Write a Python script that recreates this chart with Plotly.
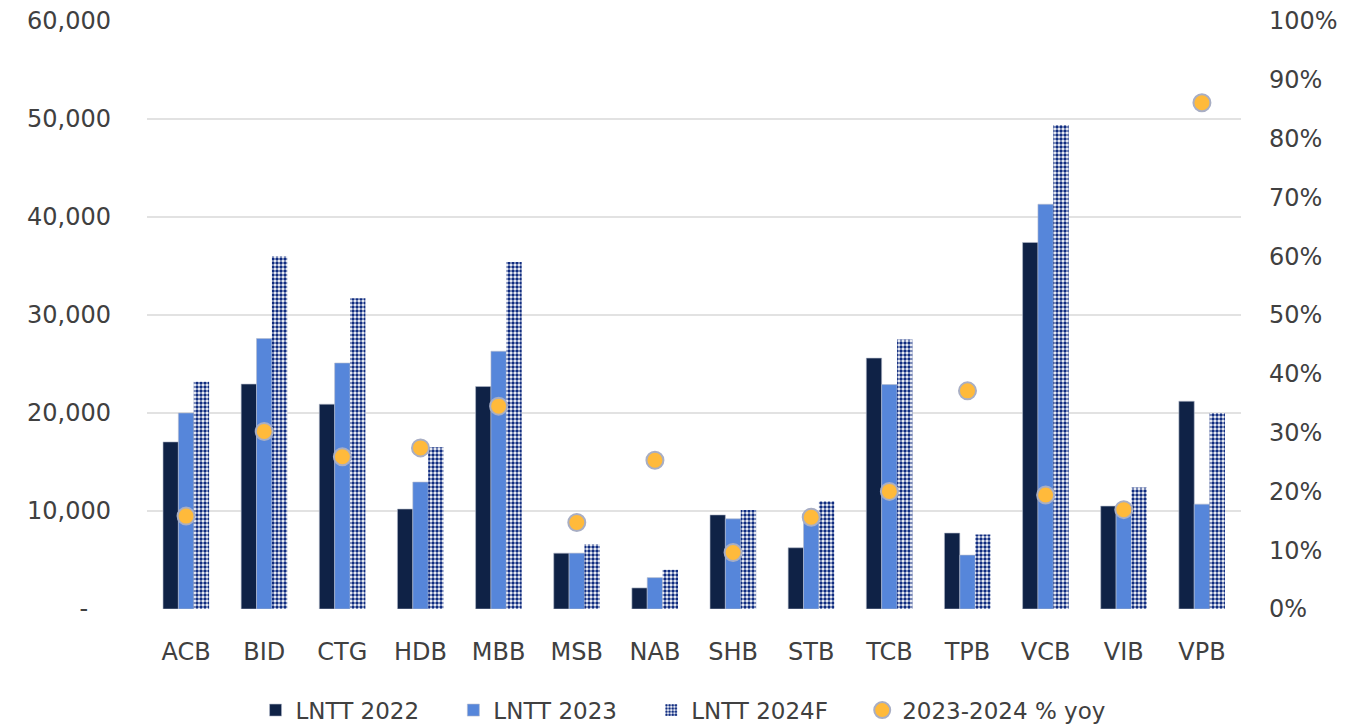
import plotly.graph_objects as go

banks = ["ACB", "BID", "CTG", "HDB", "MBB", "MSB", "NAB", "SHB", "STB", "TCB", "TPB", "VCB", "VIB", "VPB"]
lntt_2022 = [17050, 22950, 20900, 10200, 22700, 5700, 2150, 9600, 6250, 25600, 7750, 37400, 10500, 21200]
lntt_2023 = [20000, 27600, 25100, 12950, 26300, 5700, 3200, 9200, 8900, 22900, 5500, 41300, 10100, 10700]
lntt_2024f = [23200, 36000, 31700, 16500, 35400, 6600, 4000, 10100, 11000, 27500, 7600, 49400, 12400, 20000]
yoy_pct = [15.8, 30.2, 25.9, 27.4, 34.5, 14.7, 25.3, 9.6, 15.6, 20.0, 37.1, 19.4, 16.9, 86.1]

series_names = ["LNTT 2022", "LNTT 2023", "LNTT 2024F", "2023-2024 % yoy"]

left_vals = [0, 10000, 20000, 30000, 40000, 50000, 60000]
left_text = ["-\u00a0\u00a0\u00a0", "10,000", "20,000", "30,000", "40,000", "50,000", "60,000"]
right_vals = [0, 10, 20, 30, 40, 50, 60, 70, 80, 90, 100]
right_text = [f"{v}%" for v in right_vals]

FONT_FAMILY = "DejaVu Sans"
TICK_FONT = dict(family=FONT_FAMILY, size=24, color="#404040")
outline = dict(color="#b4bacb", width=0.6)
PAD = "\u00a0" * 4

fig = go.Figure()
fig.add_trace(go.Bar(name=series_names[0] + PAD, x=banks, y=lntt_2022,
                     marker=dict(color="#0f2246", line=outline)))
fig.add_trace(go.Bar(name=series_names[1] + PAD, x=banks, y=lntt_2023,
                     marker=dict(color="#5686da", line=outline)))
fig.add_trace(go.Bar(name=series_names[2] + PAD, x=banks, y=lntt_2024f,
                     marker=dict(color="white", line=dict(width=0),
                                 pattern=dict(shape=".", fgcolor="#102c80", bgcolor="white",
                                              size=4, solidity=0.6, fgopacity=1,
                                              fillmode="overlay"))))
fig.add_trace(go.Scatter(name=series_names[3], x=banks, y=yoy_pct, yaxis="y2", mode="markers",
                         marker=dict(color="#ffba3b", size=17, line=dict(color="#a8aec4", width=2))))

fig.update_layout(
    width=1360, height=726,
    margin=dict(l=147, r=119, t=21, b=117, autoexpand=False),
    paper_bgcolor="white", plot_bgcolor="white",
    barmode="group", bargap=0.41, bargroupgap=0,
    showlegend=True,
    legend=dict(orientation="h", x=0.49, xanchor="center", y=-0.172, yanchor="middle",
                font=dict(family=FONT_FAMILY, size=23, color="#404040"),
                itemwidth=30, traceorder="normal"),
    xaxis=dict(range=[-0.5, 13.5], showgrid=False, showline=False, zeroline=False,
               tickfont=TICK_FONT, ticks="", ticklabelstandoff=26, automargin=False),
    yaxis=dict(range=[0, 60000], tickvals=left_vals, ticktext=left_text, tickfont=TICK_FONT,
               showgrid=True, gridcolor="#e2e2e2", gridwidth=1.5, zeroline=False,
               showline=False, ticks="", ticklabelstandoff=35, automargin=False),
    yaxis2=dict(range=[0, 100], overlaying="y", side="right", tickvals=right_vals,
                ticktext=right_text, tickfont=TICK_FONT, showgrid=False, zeroline=False,
                showline=False, ticks="", ticklabelstandoff=27, automargin=False),
)

fig.write_html("out.html", config={"displayModeBar": False},
               post_script="document.body.style.margin='0';")
